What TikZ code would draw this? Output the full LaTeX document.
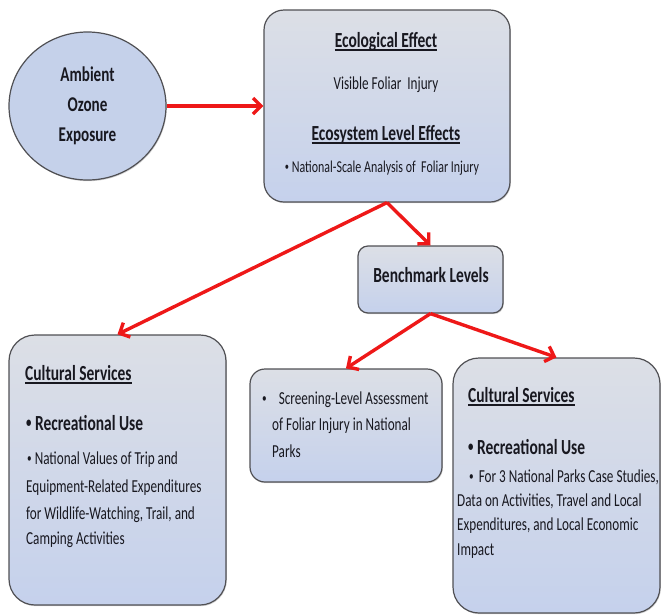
\documentclass[tikz,border=0pt]{standalone}
\usepackage{fontspec}
\setmainfont{Carlito}[FakeStretch=0.72]
\usetikzlibrary{arrows.meta,shapes.geometric,shadows}
\definecolor{arrowred}{RGB}{238,24,24}
\definecolor{boxtop}{RGB}{220,223,230}
\definecolor{boxmid}{RGB}{231,235,244}
\definecolor{boxbot}{RGB}{197,209,236}
\definecolor{boxline}{RGB}{80,80,84}
\definecolor{ellfill}{RGB}{197,209,234}
\definecolor{txt}{RGB}{24,24,32}
\newsavebox\ulbox
\newcommand\myul[1]{\sbox\ulbox{#1}\rlap{\rule[-3.5pt]{\wd\ulbox}{1.6pt}}\usebox\ulbox}
\newcommand\bul{\raisebox{0.12em}{\scalebox{0.7}{•}}}
\newcommand\fhead{\fontsize{21.5}{24}\selectfont\bfseries}
\newcommand\fbody{\fontsize{18.3}{24}\selectfont}
\tikzset{
  panel/.style={draw=boxline, line width=1.2pt, rounded corners=#1,
    top color=boxtop, middle color=boxmid, bottom color=boxbot, inner sep=0pt,
    drop shadow={shadow xshift=0.8pt, shadow yshift=-1.2pt, opacity=0.35}},
  panel/.default=20pt,
  conn/.style={draw=arrowred, line width=3.4pt, -{Straight Barb[length=8pt,width=16pt]}},
  hd/.style={font=\fhead, text=txt, inner sep=0pt},
  bd/.style={font=\fbody, text=txt, inner sep=0pt},
}
\begin{document}
\begin{tikzpicture}[x=1pt,y=-1pt]
\useasboundingbox (0,0) rectangle (662,614);
% shapes
\node[ellipse, draw=boxline, line width=1.2pt, fill=ellfill, minimum width=157pt, minimum height=148pt,
  inner sep=0pt, font=\fontsize{21}{30}\selectfont\bfseries, text=txt, align=center,
  drop shadow={shadow xshift=0.8pt, shadow yshift=-1.2pt, opacity=0.35}] (ozone) at (87.5,106) {Ambient\\Ozone\\Exposure};
\node[panel=20pt, minimum width=246pt, minimum height=192pt] (eco) at (387,106) {};
\node[panel=10pt, minimum width=145pt, minimum height=67pt] (bench) at (430.5,279.5) {};
\node[panel=26pt, minimum width=217pt, minimum height=270pt] (culL) at (117.5,470) {};
\node[panel=15pt, minimum width=192pt, minimum height=113pt] (screen) at (346,425.5) {};
\node[panel=26pt, minimum width=207pt, minimum height=255pt] (culR) at (556.5,485.5) {};
% texts: ecological box
\node[hd, anchor=mid] (t1) at (386,45) {\myul{Ecological Effect}};
\node[bd, anchor=mid] (t2) at (386,87) {Visible Foliar\ \ Injury};
\node[hd, anchor=mid] (t3) at (386,138) {\myul{Ecosystem Level Effects}};
\node[bd, font=\fontsize{16.6}{20}\selectfont, anchor=mid] (t4) at (382,170) {\bul\ National-Scale Analysis of\ \ Foliar Injury};
% benchmark
\node[hd, anchor=mid] (b1) at (431,280) {Benchmark Levels};
% left cultural
\node[hd, anchor=mid west] (c1) at (25,378) {\myul{Cultural Services}};
\node[hd, anchor=mid west] (c2) at (26,428) {\bul\ Recreational Use};
\node[bd, anchor=mid west] (c3) at (27,462) {\bul\ National Values of Trip and};
\node[bd, anchor=mid west] (c4) at (26,490) {Equipment-Related Expenditures};
\node[bd, anchor=mid west] (c5) at (26,517) {for Wildlife-Watching, Trail, and};
\node[bd, anchor=mid west] (c6) at (26,542) {Camping Activities};
% screening
\node[bd, anchor=mid west] (s1) at (262,402) {\bul\hspace{12pt}Screening-Level Assessment};
\node[bd, anchor=mid west] (s2) at (272,428) {of Foliar Injury in National};
\node[bd, anchor=mid west] (s3) at (272,455) {Parks};
% right cultural
\node[hd, anchor=mid west] (r1) at (468,400) {\myul{Cultural Services}};
\node[hd, anchor=mid west] (r2) at (468,452) {\bul\ Recreational Use};
\node[bd, anchor=mid west] (r3) at (469,480) {\bul\hspace{5pt}For 3 National Parks Case Studies,};
\node[bd, anchor=mid west] (r4) at (457,504) {Data on Activities, Travel and Local};
\node[bd, anchor=mid west] (r5) at (457,528) {Expenditures, and Local Economic};
\node[bd, anchor=mid west] (r6) at (457,553) {Impact};
% connectors
\draw[conn] (ozone) -- (eco);
\draw[conn] (eco.south) -- (culL.north);
\draw[conn] (eco.south) -- (bench.north);
\draw[conn] (bench.south) -- (screen.north);
\draw[conn] (bench.south) -- (culR.north);
\end{tikzpicture}
\end{document}
